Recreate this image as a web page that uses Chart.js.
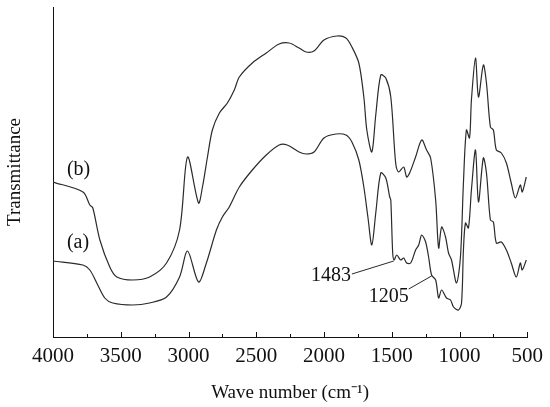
<!DOCTYPE html>
<html>
<head>
<meta charset="utf-8">
<script src="https://cdn.jsdelivr.net/npm/chart.js@4.4.1/dist/chart.umd.min.js"></script>
<style>
html,body{margin:0;padding:0;background:#fff;}
canvas{display:block;}
</style>
</head>
<body>
<canvas id="c" width="550" height="407"></canvas>
<script>
// Wavenumbers (cm-1) and transmittance (arbitrary units)
const wnB = [4000,3779,3728,3706,3654,3581,3529,3412,3287,3162,3066,3007,2926,2897,2860,2824,2772,2713,2662,2625,2529,2426,2331,2257,2184,2132,2074,2000,1904,1838,1794,1743,1706,1684,1647,1618,1581,1544,1507,1471,1449,1412,1390,1368,1324,1279,1243,1213,1176,1154,1132,1103,1081,1059,1022,993,971,949,926,912,882,860,824,801,772,750,728,691,654,618,588,551,537,507];
const tB = [155,145,132,129,97,70,60,57,60,74,107,180,134,150,180,207,224,234,247,260,274,284,293,294,289,285,286,297,301,299,290,274,240,207,185,222,262,259,240,174,165,170,160,164,180,197,187,179,137,89,110,100,84,77,54,80,154,207,199,237,279,240,272,254,210,207,187,184,174,154,139,152,145,160];

const wnA = [4000,3779,3728,3677,3618,3559,3412,3287,3162,3066,3007,2926,2868,2794,2750,2699,2625,2529,2426,2331,2272,2184,2132,2074,2000,1912,1838,1794,1743,1706,1676,1647,1618,1581,1544,1515,1507,1493,1483,1463,1434,1412,1390,1360,1324,1301,1279,1250,1228,1206,1176,1154,1132,1096,1066,1044,1007,985,971,956,934,912,882,860,824,801,772,750,728,691,654,618,581,551,537,507];
const tA = [76,72,67,54,39,34,32,34,40,60,86,55,74,107,120,130,150,167,182,192,192,185,183,185,199,203,202,195,177,150,120,92,124,164,159,140,137,84,77,82,77,79,74,74,87,92,102,95,80,62,57,39,47,39,37,30,27,34,87,114,109,147,187,135,179,164,117,115,94,95,87,74,60,74,67,77];

const xTicks = [4000,3500,3000,2500,2000,1500,1000,500];
const seriesLabels = ['(b)','(a)'];
const labelPos = [[3897,167],[3897,94]];
const peakLabels = ['1483','1205'];
const peakAt = [[1485,76],[1206,61]];      // point on curve (a)
const peakTextEnd = [[1794,63],[1375,48]]; // leader line start near text
const peakTextPos = [[1801,61],[1375,40]]; // right edge of text

const FONT = '"Liberation Serif","Times New Roman",serif';
const INK = '#2b2b2b';

function toPts(xs, ys){ return xs.map((x,i)=>({x:x,y:ys[i]})); }

const annot = {
  id:'annot',
  afterDraw(chart){
    const {ctx, scales:{x,y}} = chart;
    ctx.save();
    ctx.fillStyle = '#111';
    ctx.strokeStyle = '#111';
    // inward ticks on x axis
    ctx.lineWidth = 1;
    const bottom = chart.chartArea.bottom;
    for(let v=500; v<=4000; v+=250){
      const px = Math.round(x.getPixelForValue(v))+0.5;
      const len = (v%500===0)?5:3;
      ctx.beginPath(); ctx.moveTo(px,bottom); ctx.lineTo(px,bottom-len); ctx.stroke();
    }
    // series labels
    ctx.font = '20px '+FONT;
    ctx.textAlign='left'; ctx.textBaseline='middle';
    seriesLabels.forEach((t,i)=>{
      ctx.fillText(t, x.getPixelForValue(labelPos[i][0]), y.getPixelForValue(labelPos[i][1]));
    });
    // peak annotations
    ctx.textAlign='right';
    ctx.lineWidth = 0.9;
    peakLabels.forEach((t,i)=>{
      ctx.fillText(t, x.getPixelForValue(peakTextPos[i][0]), y.getPixelForValue(peakTextPos[i][1]));
      ctx.beginPath();
      ctx.moveTo(x.getPixelForValue(peakTextEnd[i][0]), y.getPixelForValue(peakTextEnd[i][1]));
      ctx.lineTo(x.getPixelForValue(peakAt[i][0]), y.getPixelForValue(peakAt[i][1]));
      ctx.stroke();
    });
    ctx.restore();
  }
};

new Chart(document.getElementById('c'), {
  type:'scatter',
  data:{
    datasets:[
      {label:'(b)', data:toPts(wnB,tB), showLine:true, borderColor:INK, borderWidth:1.2, pointRadius:0, tension:0.3, fill:false},
      {label:'(a)', data:toPts(wnA,tA), showLine:true, borderColor:INK, borderWidth:1.2, pointRadius:0, tension:0.3, fill:false}
    ]
  },
  options:{
    responsive:false,
    animation:false,
    devicePixelRatio:1,
    layout:{padding:{top:7,right:21,left:0,bottom:0}},
    plugins:{legend:{display:false}, tooltip:{enabled:false}},
    scales:{
      x:{
        type:'linear', reverse:true, min:500, max:4000,
        afterFit(s){ s.height = 70; },
        afterBuildTicks(s){ s.ticks = xTicks.map(v=>({value:v})); },
        grid:{display:true, drawOnChartArea:false, drawTicks:false},
        border:{display:true, color:'#111', width:1},
        ticks:{color:'#111', font:{family:FONT, size:21}, padding:7, autoSkip:false, maxRotation:0, callback:v=>String(v)},
        title:{display:true, text:'Wave number (cm\u207B\u00B9)', color:'#111', font:{family:FONT, size:19}, padding:{top:0,bottom:3}}
      },
      y:{
        type:'linear', min:0, max:330,
        afterFit(s){ s.width = 53; },
        grid:{display:false, drawTicks:false},
        border:{display:true, color:'#111', width:1},
        ticks:{display:false},
        title:{display:true, text:'Transmittance', color:'#111', font:{family:FONT, size:19}, padding:{top:4,bottom:0}}
      }
    }
  },
  plugins:[annot]
});
</script>
</body>
</html>
